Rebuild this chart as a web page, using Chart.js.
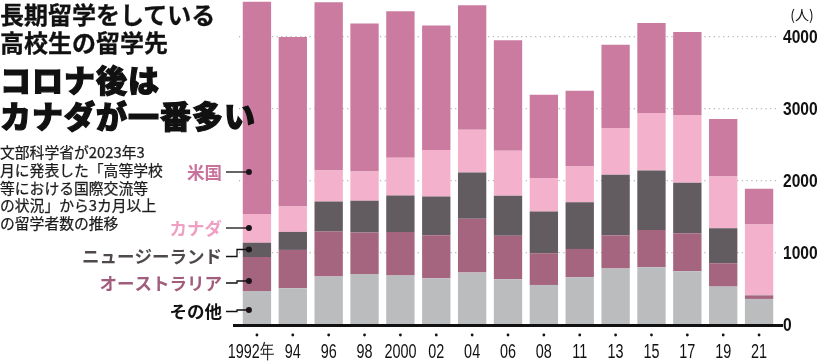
<!DOCTYPE html>
<html lang="ja">
<head>
<meta charset="utf-8">
<script src="https://cdn.jsdelivr.net/npm/chart.js@4.4.1/dist/chart.umd.min.js"></script>
<style>
  body { margin: 0; background: #fff; }
  #wrap { position: relative; width: 820px; height: 362px; overflow: hidden; }
  #chart { position: absolute; left: 0; top: 0; }
  .t { position: absolute; left: 0; white-space: nowrap; font-family: "Noto Sans CJK JP", sans-serif; color: #111; z-index: 2; }
  .t1 { font-size: 24px; font-weight: 700; line-height: 28px; top: 0; -webkit-text-stroke: 0.3px #111; }
  .t2 { font-size: 31px; font-weight: 900; line-height: 35.5px; top: 61px; letter-spacing: 1px; -webkit-text-stroke: 1.2px #111; }
  .desc { font-size: 14.8px; font-weight: 400; line-height: 17.8px; top: 143px; color: #1c1c1c; -webkit-text-stroke: 0.25px #1c1c1c; }
</style>
</head>
<body>
<div id="wrap">
  <canvas id="chart" width="820" height="362"></canvas>
  <div class="t t1">長期留学をしている<br>高校生の留学先</div>
  <div class="t t2">コロナ後は<br>カナダが一番多い</div>
  <div class="t desc">文部科学省が2023年3<br>月に発表した「高等学校<br>等における国際交流等<br>の状況」から3カ月以上<br>の留学者数の推移</div>
</div>
<script>
// 年度ラベル
const YEARS = ['1992年', '94', '96', '98', '2000', '02', '04', '06', '08', '11', '13', '15', '17', '19', '21'];
// 国別の留学者数(人)
const SONOTA = [472, 510, 672, 709, 686, 649, 728, 635, 556, 663, 783, 802, 747, 533, 362];
const AUSTRALIA = [472, 533, 626, 575, 607, 598, 746, 603, 441, 394, 459, 519, 528, 325, 46];
const NEWZEALAND = [199, 250, 417, 441, 505, 537, 644, 556, 579, 649, 844, 825, 700, 487, 5];
const CANADA = [399, 352, 431, 407, 525, 646, 594, 626, 464, 496, 650, 798, 941, 718, 983];
const BEIKOKU = [2948, 2355, 2337, 2054, 2034, 1729, 1729, 1534, 1159, 1053, 1158, 1252, 1155, 798, 496];
const Y_TICKS = [0, 1000, 2000, 3000, 4000];

const COLORS = {
    beikoku: '#cc7ba0',
    canada: '#f3b1cc',
    nz: '#625b60',
    australia: '#a5657f',
    sonota: '#babcbe'
};

// 左側の凡例(ラベル、色、ラベルの高さ、点の高さ)
const LEGEND = [
    { text: '米国', color: '#c9739c', y: 172, dot: 172 },
    { text: 'カナダ', color: '#ef9fc2', y: 228, dot: 228 },
    { text: 'ニュージーランド', color: '#4f494d', y: 256.5, dot: 249.5 },
    { text: 'オーストラリア', color: '#a15e7c', y: 283, dot: 281 },
    { text: 'その他', color: '#111', y: 311.5, dot: 310 }
];

const SANS = '"Liberation Sans", Arial, sans-serif';

// 横に詰めた文字を描く
const narrowText = (ctx, text, x, y, sx) => {
    ctx.save();
    ctx.translate(x, y);
    ctx.scale(sx, 1);
    ctx.fillText(text, 0, 0);
    ctx.restore();
};

// 凡例、基線、目盛りを描くプラグイン
const decoPlugin = {
    id: 'deco',
    afterDatasetsDraw(chart) {
        const ctx = chart.ctx;
        const x = chart.scales.x;
        const y = chart.scales.y;
        const area = chart.chartArea;
        ctx.save();
        // 基線
        ctx.strokeStyle = '#111';
        ctx.lineWidth = 3;
        ctx.beginPath();
        ctx.moveTo(area.left - 6, area.bottom + 0.5);
        ctx.lineTo(area.right + 6, area.bottom + 0.5);
        ctx.stroke();
        // 横軸の点とラベル
        ctx.fillStyle = '#111';
        ctx.textAlign = 'center';
        ctx.textBaseline = 'middle';
        ctx.font = '20px ' + SANS;
        YEARS.forEach((label, i) => {
            const px = x.getPixelForValue(i);
            ctx.beginPath();
            ctx.arc(px, area.bottom + 10, 1.4, 0, Math.PI * 2);
            ctx.fill();
            const shift = label.endsWith('年') ? -6 : 0;
            narrowText(ctx, label, px + shift, 352, 0.72);
        });
        // 縦軸のラベル
        ctx.textAlign = 'left';
        ctx.font = 'bold 19px ' + SANS;
        y.ticks.forEach(t => {
            narrowText(ctx, String(t.value), area.right + 6, y.getPixelForValue(t.value) + 0.5, 0.82);
        });
        // 単位
        ctx.textAlign = 'center';
        ctx.font = '14px "Noto Sans CJK JP", sans-serif';
        ctx.fillText('(人)', 802, 15);
        // 凡例
        const dotX = x.getPixelForValue(0) - 8;
        ctx.font = 'bold 17.5px "Noto Sans CJK JP", sans-serif';
        ctx.textAlign = 'right';
        LEGEND.forEach(item => {
            ctx.fillStyle = item.color;
            ctx.fillText(item.text, 222, item.y);
            ctx.strokeStyle = '#111';
            ctx.lineWidth = 1.3;
            ctx.beginPath();
            ctx.moveTo(226, item.y);
            if (item.y !== item.dot) {
                ctx.lineTo(237, item.y);
                ctx.lineTo(237, item.dot);
            }
            ctx.lineTo(dotX, item.dot);
            ctx.stroke();
            ctx.fillStyle = '#1a1418';
            ctx.beginPath();
            ctx.arc(dotX, item.dot, 3, 0, Math.PI * 2);
            ctx.fill();
        });
        ctx.restore();
    }
};

const dataset = (label, data, color) => ({
    label: label,
    data: data,
    backgroundColor: color,
    borderWidth: 0,
    categoryPercentage: 1,
    barPercentage: 0.79
});

new Chart(document.getElementById('chart'), {
    type: 'bar',
    data: {
        labels: YEARS,
        datasets: [
            dataset('その他', SONOTA, COLORS.sonota),
            dataset('オーストラリア', AUSTRALIA, COLORS.australia),
            dataset('ニュージーランド', NEWZEALAND, COLORS.nz),
            dataset('カナダ', CANADA, COLORS.canada),
            dataset('米国', BEIKOKU, COLORS.beikoku)
        ]
    },
    options: {
        responsive: false,
        animation: false,
        layout: { padding: { left: 239, top: 1, right: 0, bottom: 0 } },
        plugins: {
            legend: { display: false },
            tooltip: { enabled: false }
        },
        scales: {
            x: {
                stacked: true,
                grid: { display: false },
                border: { display: false },
                ticks: { display: false },
                afterFit: s => { s.height = 37; }
            },
            y: {
                stacked: true,
                position: 'right',
                min: 0,
                max: 4500,
                afterBuildTicks: s => { s.ticks = Y_TICKS.map(v => ({ value: v })); },
                grid: {
                    color: ctx => ctx.tick && ctx.tick.value === 0 ? 'rgba(0,0,0,0)' : '#b5b5b5',
                    lineWidth: 1.2,
                    drawTicks: false
                },
                border: { display: false, dash: [1.2, 3.5] },
                ticks: { display: false },
                afterFit: s => { s.width = 43; }
            }
        }
    },
    plugins: [decoPlugin]
});
</script>
</body>
</html>
